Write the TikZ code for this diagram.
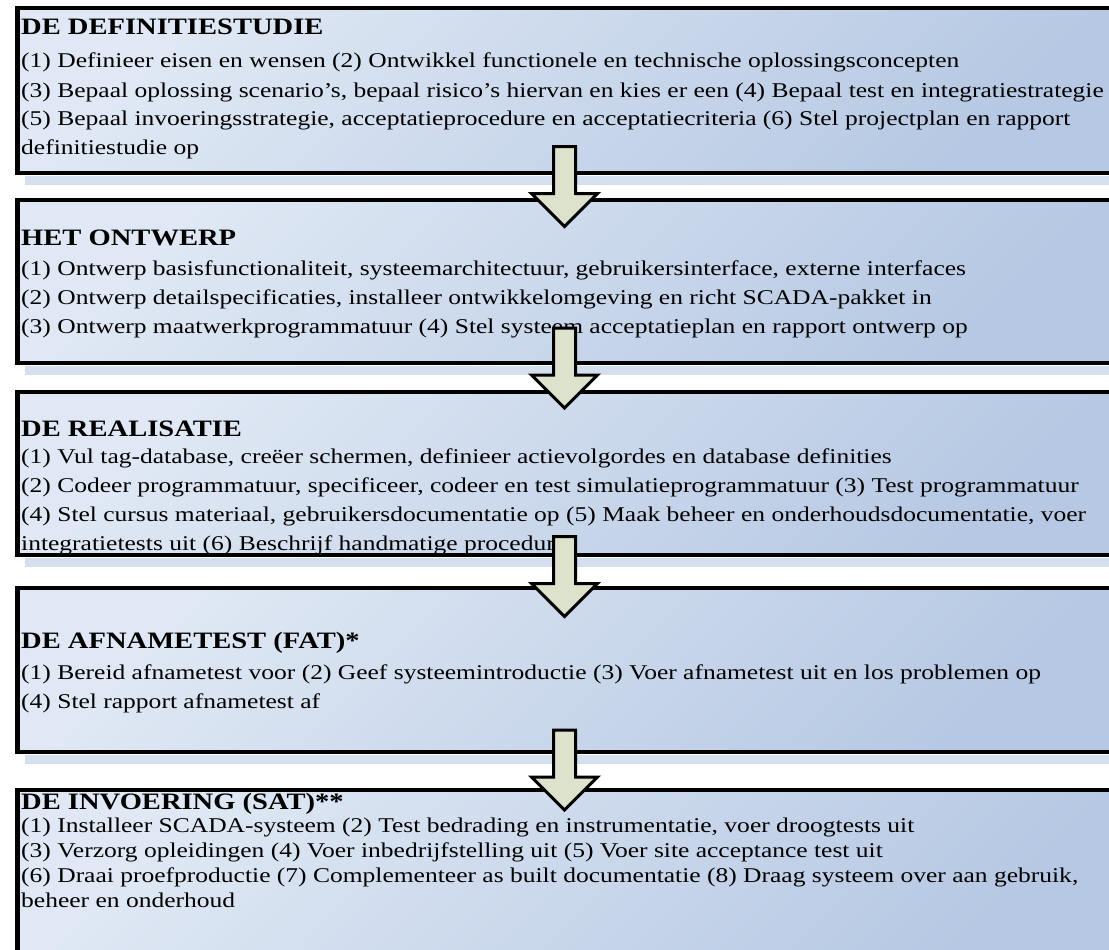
\documentclass[tikz,border=0pt]{standalone}
\usepackage{fontspec}
\setmainfont[FakeStretch=1.215]{Liberation Serif}

\definecolor{phaselight}{RGB}{223,232,244}
\definecolor{phasedark}{RGB}{182,200,227}
\definecolor{shadowblue}{RGB}{212,224,240}
\definecolor{arrowfill}{RGB}{221,226,204}

\tikzset{
  phasebox/.style={draw=black, line width=4.5pt, top color=phaselight,
    bottom color=phasedark, shading angle=45, anchor=north west,
    inner sep=0pt, outer sep=0pt, minimum width=1110pt},
  phaseshadow/.style={fill=shadowblue, draw=none},
  phasetitle/.style={anchor=base west, inner sep=0pt,
    font=\fontsize{23.5}{27}\selectfont\bfseries},
  phasetext/.style={anchor=base west, inner sep=0pt,
    font=\fontsize{21}{29}\selectfont},
  phasetextdense/.style={anchor=base west, inner sep=0pt,
    font=\fontsize{21}{25.3}\selectfont},
  pics/downarrow/.style={code={
    \draw[draw=black, line width=3pt, fill=arrowfill, line join=miter]
      (-11,0) -- (11,0) -- (11,47) -- (33,47) -- (0,80) -- (-33,47)
      -- (-11,47) -- cycle;}}
}

\newcommand{\steplines}[1]{\parbox[t]{1100pt}{\raggedright #1}}

\begin{document}
\begin{tikzpicture}[x=1pt, y=-1pt]
\useasboundingbox (0,0) rectangle (1109,950);

% phase 1
\fill[phaseshadow] (25,176) rectangle (1112,185);
\node[phasebox, minimum height=165pt] (b1) at (17.5,8) {};
\node[phasetitle] (h1) at (21,35) {DE DEFINITIESTUDIE};
\node[phasetext] (t1) at (21,68) {\steplines{%
(1) Definieer eisen en wensen (2) Ontwikkel functionele en technische oplossingsconcepten\\
(3) Bepaal oplossing scenario’s, bepaal risico’s hiervan en kies er een (4) Bepaal test en integratiestrategie\\
(5) Bepaal invoeringsstrategie, acceptatieprocedure en acceptatiecriteria (6) Stel projectplan en rapport\\
definitiestudie op}};

% phase 2
\fill[phaseshadow] (25,366) rectangle (1112,375);
\node[phasebox, minimum height=163pt] (b2) at (17.5,200) {};
\node[phasetitle] (h2) at (21,245) {HET ONTWERP};
\node[phasetext] (t2) at (21,275) {\steplines{%
(1) Ontwerp basisfunctionaliteit, systeemarchitectuur, gebruikersinterface, externe interfaces\\
(2) Ontwerp detailspecificaties, installeer ontwikkelomgeving en richt SCADA-pakket in\\
(3) Ontwerp maatwerkprogrammatuur (4) Stel systeem acceptatieplan en rapport ontwerp op}};

% phase 3
\fill[phaseshadow] (25,558) rectangle (1112,567);
\node[phasebox, minimum height=163pt] (b3) at (17.5,392) {};
\node[phasetitle] (h3) at (21,436) {DE REALISATIE};
\node[phasetext] (t3) at (21,463) {\steplines{%
(1) Vul tag-database, creëer schermen, definieer actievolgordes en database definities\\
(2) Codeer programmatuur, specificeer, codeer en test simulatieprogrammatuur (3) Test programmatuur\\
(4) Stel cursus materiaal, gebruikersdocumentatie op (5) Maak beheer en onderhoudsdocumentatie, voer\\
integratietests uit (6) Beschrijf handmatige procedures}};

% phase 4
\fill[phaseshadow] (25,755) rectangle (1112,764);
\node[phasebox, minimum height=164pt] (b4) at (17.5,588) {};
\node[phasetitle] (h4) at (21,648) {DE AFNAMETEST (FAT)*};
\node[phasetext] (t4) at (21,679) {\steplines{%
(1) Bereid afnametest voor (2) Geef systeemintroductie (3) Voer afnametest uit en los problemen op\\
(4) Stel rapport afnametest af}};

% phase 5
\node[phasebox, minimum height=175pt] (b5) at (17.5,790) {};
\node[phasetitle] (h5) at (21,809) {DE INVOERING (SAT)**};
\node[phasetextdense] (t5) at (21,832) {\steplines{%
(1) Installeer SCADA-systeem (2) Test bedrading en instrumentatie, voer droogtests uit\\
(3) Verzorg opleidingen (4) Voer inbedrijfstelling uit (5) Voer site acceptance test uit\\
(6) Draai proefproductie (7) Complementeer as built documentatie (8) Draag systeem over aan gebruik,\\
beheer en onderhoud}};

% block arrows between the phases
\pic at (564.5,146.5) {downarrow};
\pic at (564.5,328) {downarrow};
\pic at (564.5,536.5) {downarrow};
\pic at (564.5,730) {downarrow};
\end{tikzpicture}
\end{document}
